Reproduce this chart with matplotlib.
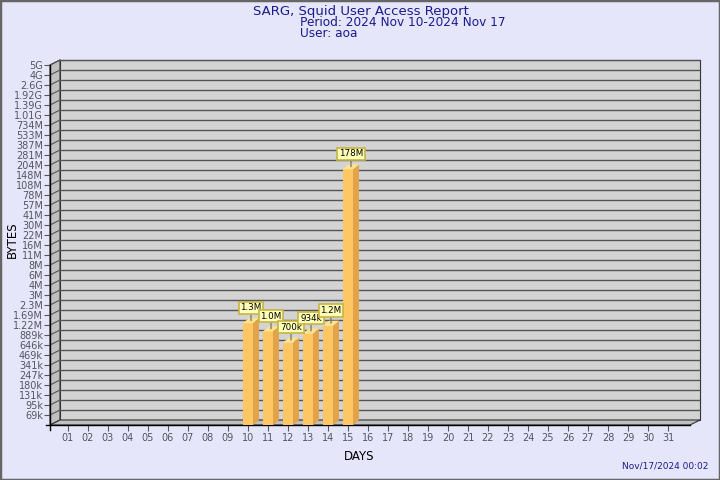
import numpy as np
import matplotlib
matplotlib.use("Agg")
import matplotlib.pyplot as plt
from matplotlib.patches import Polygon

# ---- data
days = list(range(1, 32))
day_labels = ["%02d" % d for d in days]
bar_days = [10, 11, 12, 13, 14, 15]
bar_bytes = [1.3e6, 1.0e6, 7.0e5, 9.34e5, 1.2e6, 1.78e8]
bar_text = ["1.3M", "1.0M", "700k", "934k", "1.2M", "178M"]
ytick_labels = ["69k", "95k", "131k", "180k", "247k", "341k", "469k", "646k", "889k",
                "1.22M", "1.69M", "2.3M", "3M", "4M", "6M", "8M", "11M", "16M", "22M",
                "30M", "41M", "57M", "78M", "108M", "148M", "204M", "281M", "387M",
                "533M", "734M", "1.01G", "1.39G", "1.92G", "2.6G", "4G", "5G"]

title = "SARG, Squid User Access Report"
period = "Period: 2024 Nov 10-2024 Nov 17"
user = "User: aoa"
stamp = "Nov/17/2024 00:02"

# ---- colours
bg = "#E6E6FA"
navy = "#1a1a8c"
wall = "#D3D3D3"
side_wall = "#C0C0C0"
grid_c = "#555555"
front_c = "#FFC664"
side_c = "#E2A34A"
top_c = "#FFE38A"

# log steps between tick levels
r = (5e9 / 69000.0) ** (1.0 / 35)
yticks = [69000.0 * r ** i for i in range(36)]
ybot = 69000.0 / r
ytop = 5e9

fig = plt.figure(figsize=(7.2, 4.8), dpi=100, facecolor=bg)
fig.patches.append(plt.Rectangle((0, 0), 1, 1, transform=fig.transFigure,
                                 fill=False, edgecolor="#666666", linewidth=2.5))

# front plane of the chart
ax = fig.add_axes([50 / 720, 55 / 480, 640 / 720, 360 / 480])
ax.set_yscale("log")
ax.set_xlim(0.1, 32.1)
ax.set_ylim(ybot, ytop)
ax.patch.set_visible(False)
for s in ax.spines.values():
    s.set_visible(False)

# depth of the walls (10px right, 5px up) and bars (6px, 5px)
wdx, wdy = 0.5, r ** 0.5
bdx, bdy = 0.3, r ** 0.5
x0, x1 = 0.1, 32.1

def poly(pts, fc, ec="none", lw=0.0, z=1):
    p = Polygon(pts, closed=True, facecolor=fc, edgecolor=ec, linewidth=lw,
                zorder=z, clip_on=False)
    ax.add_patch(p)

# back wall
poly([(x0 + wdx, ybot * wdy), (x1 + wdx, ybot * wdy), (x1 + wdx, ytop * wdy),
      (x0 + wdx, ytop * wdy)], wall, "#333333", 0.8, 0)
# left wall
poly([(x0, ybot), (x0 + wdx, ybot * wdy), (x0 + wdx, ytop * wdy), (x0, ytop)],
     side_wall, "#333333", 0.8, 0)
# floor
poly([(x0, ybot), (x1, ybot), (x1 + wdx, ybot * wdy), (x0 + wdx, ybot * wdy)],
     side_wall, "#333333", 0.8, 0)

# grid lines on the walls
for yv in yticks:
    ax.plot([x0 + wdx, x1 + wdx], [yv * wdy, yv * wdy], color=grid_c, lw=1.0,
            zorder=0.5, clip_on=False)
    ax.plot([x0, x0 + wdx], [yv, yv * wdy], color=grid_c, lw=0.8,
            zorder=0.5, clip_on=False)

# axis lines, crossing a little at the corner
ax.plot([x0, x0], [ybot / r ** 0.5, ytop], color="black", lw=1.0, zorder=3,
        clip_on=False)
ax.plot([x0 - 0.2, x1], [ybot, ybot], color="black", lw=1.0, zorder=3,
        clip_on=False)

# bars
bw = 0.5
for d, v, t in zip(bar_days, bar_bytes, bar_text):
    xl, xr = d - bw / 2, d + bw / 2
    ax.bar(d, v - ybot, bottom=ybot, width=bw, color=front_c, zorder=4,
           linewidth=0)
    poly([(xr, ybot), (xr + bdx, ybot * bdy), (xr + bdx, v * bdy), (xr, v)],
         side_c, z=4)
    poly([(xl, v), (xr, v), (xr + bdx, v * bdy), (xl + bdx, v * bdy)],
         top_c, z=4)
    ax.annotate(t, xy=(d + bdx / 2, v * r ** 0.25), xytext=(0, 6),
                textcoords="offset points", ha="center", va="bottom",
                fontsize=6.3, color="black", zorder=6,
                bbox=dict(boxstyle="square,pad=0.2", fc="#FFFFB8",
                          ec="#C8B440", lw=1.2),
                arrowprops=dict(arrowstyle="-", color="#666666", lw=0.8,
                                shrinkA=0, shrinkB=0))

ax.set_yticks(yticks)
ax.set_yticklabels(ytick_labels)
ax.yaxis.set_minor_locator(matplotlib.ticker.NullLocator())
ax.set_xticks(days)
ax.set_xticklabels(day_labels)
ax.tick_params(axis="y", length=4, width=0.8, color=grid_c, labelsize=7,
               labelcolor="#555560", pad=1)
ax.tick_params(axis="x", length=4, width=0.8, color=grid_c, labelsize=7,
               labelcolor="#555560", pad=2)

fig.text(253 / 720, 1 - 15 / 480, title, color=navy, fontsize=9.5,
         ha="left", va="baseline")
fig.text(300 / 720, 1 - 26.5 / 480, period, color=navy, fontsize=8.7,
         ha="left", va="baseline")
fig.text(300 / 720, 1 - 37 / 480, user, color=navy, fontsize=8.7,
         ha="left", va="baseline")
fig.text(12 / 720, 1 - 240 / 480, "BYTES", rotation=90, fontsize=8.5,
         ha="center", va="center", color="black")
fig.text(359 / 720, 1 - 456 / 480, "DAYS", fontsize=8.5, ha="center",
         va="center", color="black")
fig.text(708 / 720, 1 - 466 / 480, stamp, color=navy, fontsize=6.5,
         ha="right", va="center")

fig.savefig("out.png", dpi=100, facecolor=bg)
